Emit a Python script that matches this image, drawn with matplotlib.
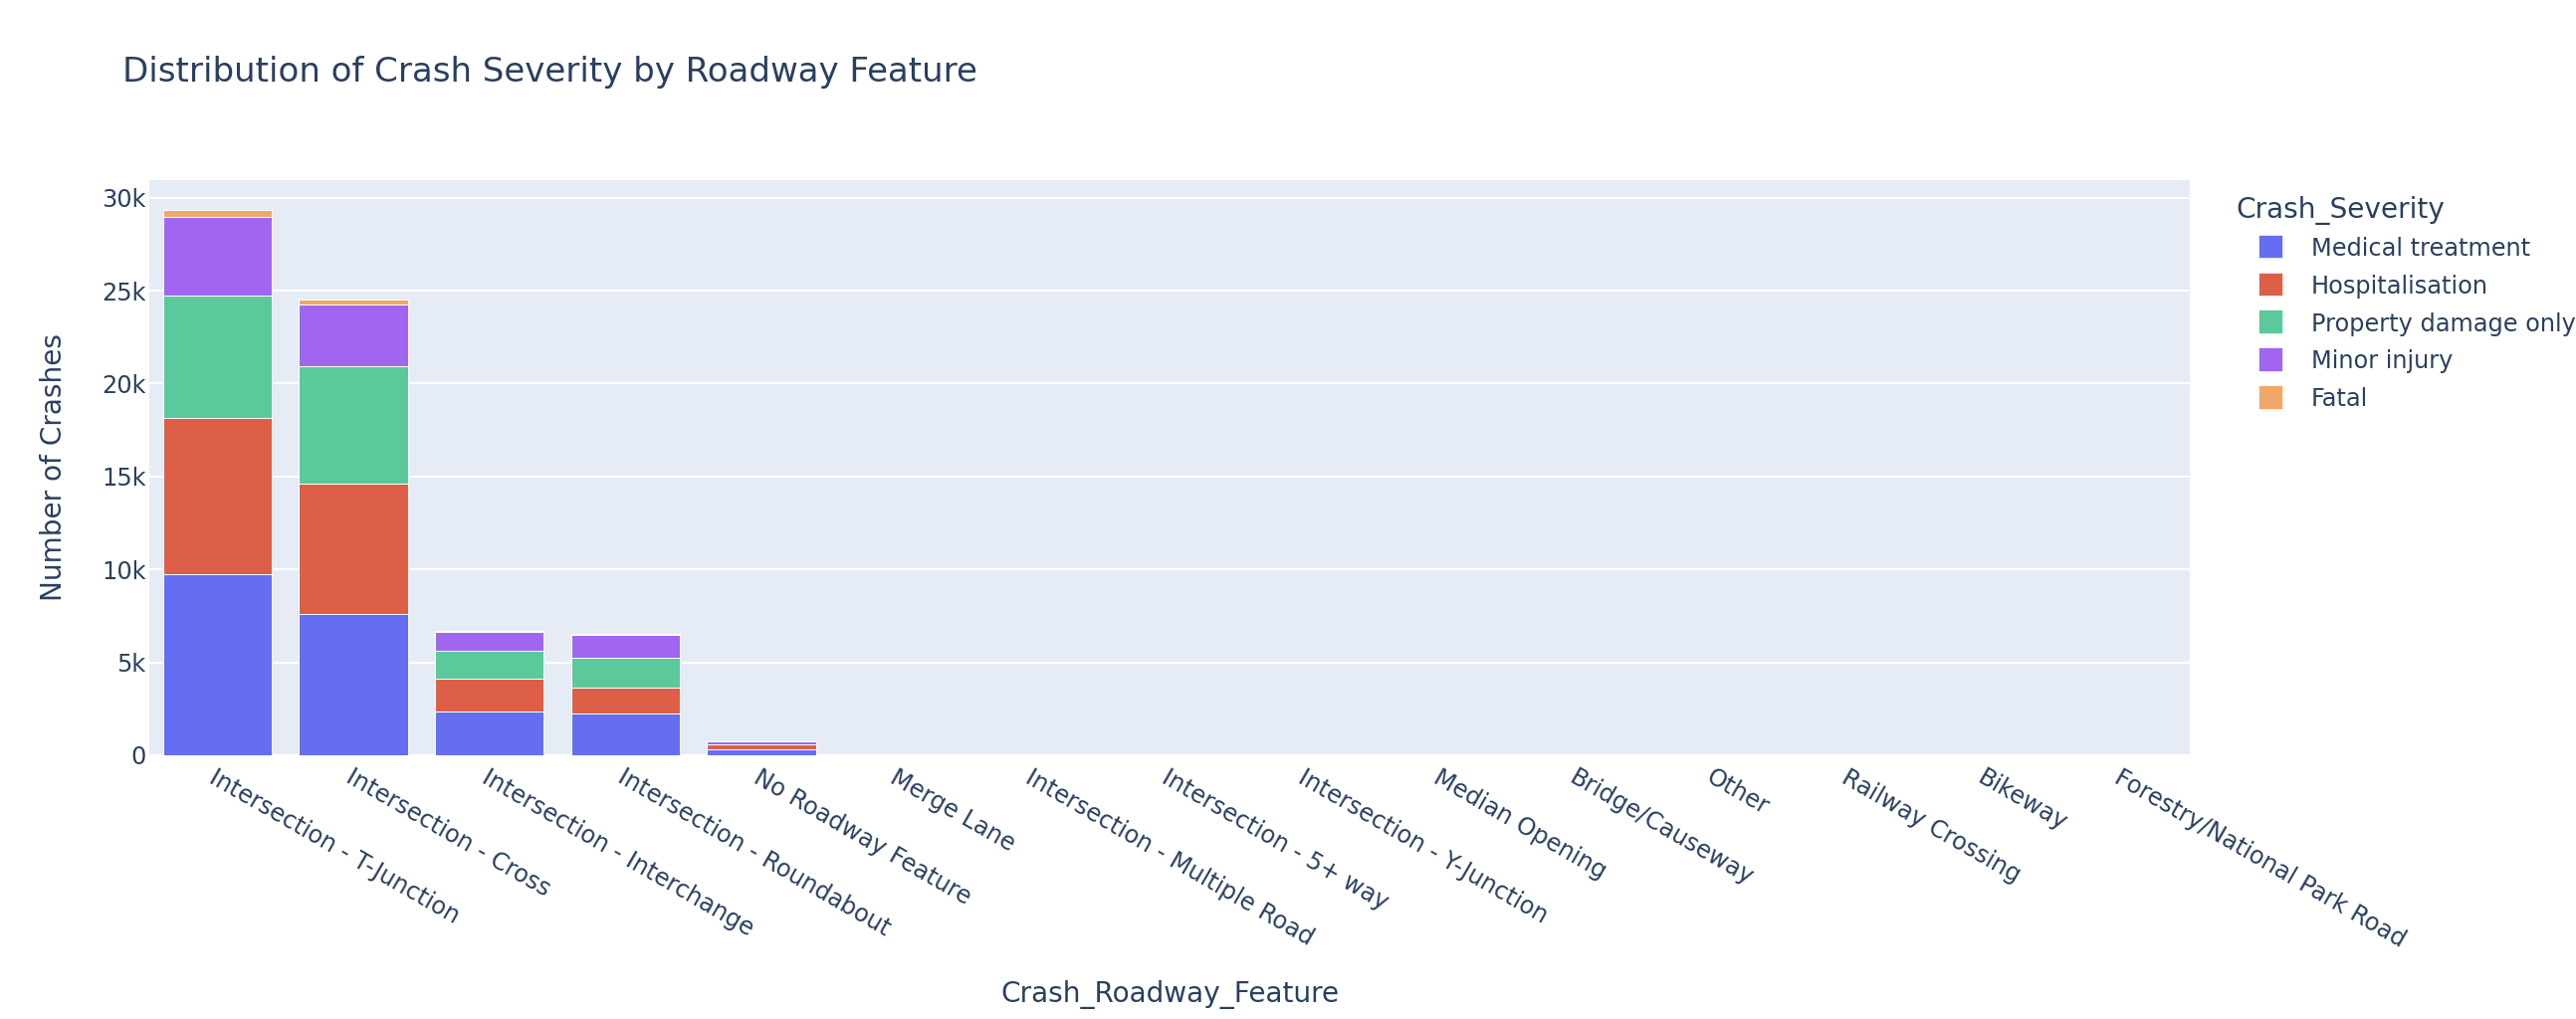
import matplotlib
matplotlib.use("Agg")
import matplotlib.pyplot as plt
from matplotlib.patches import Rectangle
import numpy as np

categories = [
    "Intersection - T-Junction", "Intersection - Cross", "Intersection - Interchange",
    "Intersection - Roundabout", "No Roadway Feature", "Merge Lane",
    "Intersection - Multiple Road", "Intersection - 5+ way", "Intersection - Y-Junction",
    "Median Opening", "Bridge/Causeway", "Other", "Railway Crossing", "Bikeway",
    "Forestry/National Park Road",
]
severities = ["Medical treatment", "Hospitalisation", "Property damage only", "Minor injury", "Fatal"]

medical_treatment = [9750, 7620, 2330, 2230, 310, 30, 25, 20, 18, 6, 5, 4, 3, 2, 1]
hospitalisation   = [8400, 7010, 1790, 1420, 260, 25, 20, 18, 15, 5, 4, 3, 2, 2, 1]
property_damage   = [6600, 6280, 1510, 1620, 30, 10, 8, 7, 6, 2, 2, 1, 1, 1, 0]
minor_injury      = [4230, 3370, 1010, 1230, 130, 12, 10, 9, 8, 3, 2, 2, 1, 1, 1]
fatal             = [380, 240, 40, 30, 10, 1, 1, 1, 1, 0, 0, 0, 0, 0, 0]

series = [medical_treatment, hospitalisation, property_damage, minor_injury, fatal]
colors = ["#656DF1", "#DE5F47", "#5BC99B", "#A066F0", "#F2A668"]

TXT = "#2A3F5F"
BG = "#E5ECF6"
W, H = 2588, 1024
PT = 0.72

plt.rcParams["font.family"] = ["DejaVu Sans"]

fig = plt.figure(figsize=(W / 100, H / 100), dpi=100)
L, R, T, B = 150, 2200, 181, 759
ax = fig.add_axes([L / W, 1 - B / H, (R - L) / W, (B - T) / H])
ax.set_facecolor(BG)
for s in ax.spines.values():
    s.set_visible(False)

x = np.arange(len(categories))
bottom = np.zeros(len(categories))
for name, vals, c in zip(severities, series, colors):
    v = np.array(vals, dtype=float)
    ax.bar(x, v, width=0.8, bottom=bottom, color=c, edgecolor="white", linewidth=0.7, label=name, zorder=3)
    bottom += v

ax.set_xlim(-0.5, len(categories) - 0.5)
ax.set_ylim(0, 30950)
yt = [0, 5000, 10000, 15000, 20000, 25000, 30000]
ax.set_yticks(yt)
ax.set_yticklabels(["0" if t == 0 else f"{t // 1000}k" for t in yt])
ax.grid(axis="y", color="white", linewidth=1.5, zorder=0)
ax.axhline(0, color="white", linewidth=2.2, zorder=1)
ax.tick_params(axis="y", length=0, pad=2.5, labelsize=24 * PT, labelcolor=TXT)
ax.set_xticks(x)
ax.set_xticklabels(categories, rotation=-30, ha="left", va="top", rotation_mode="anchor")
ax.tick_params(axis="x", length=0, pad=7, labelsize=24 * PT, labelcolor=TXT)

fig.text(123 / W, 1 - 82 / H, "Distribution of Crash Severity by Roadway Feature",
         fontsize=34 * PT, color=TXT, ha="left", va="baseline")
fig.text(1175 / W, 1 - 1007 / H, "Crash_Roadway_Feature", fontsize=28 * PT, color=TXT,
         ha="center", va="baseline")
fig.text(54 / W, 1 - 470 / H, "Number of Crashes", fontsize=28 * PT, color=TXT,
         ha="center", va="center", rotation=90)

# legend
fig.text(2246 / W, 1 - 219 / H, "Crash_Severity", fontsize=28 * PT, color=TXT, ha="left", va="baseline")
for i, (name, c) in enumerate(zip(severities, colors)):
    cy = 247.5 + i * 37.8
    fig.add_artist(Rectangle((2269 / W, 1 - (cy + 11.8) / H), 23.6 / W, 23.6 / H,
                             transform=fig.transFigure, facecolor=c, edgecolor="white", linewidth=0.5))
    fig.text(2322 / W, 1 - (cy + 9.5) / H, name, fontsize=24 * PT, color=TXT, ha="left", va="baseline")

fig.savefig("out.png", dpi=100, facecolor="white")
